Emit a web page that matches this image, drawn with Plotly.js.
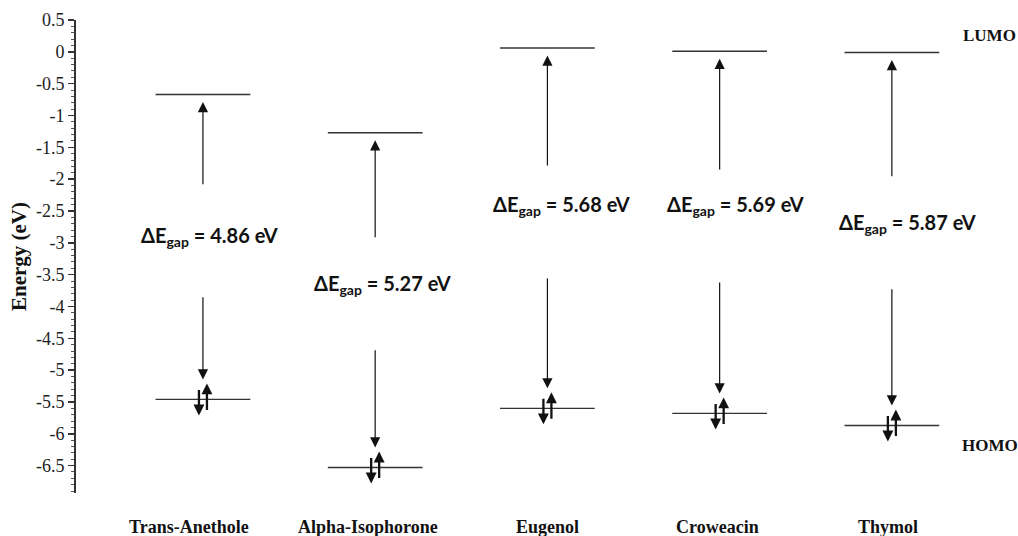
<!DOCTYPE html>
<html>
<head>
<meta charset="utf-8">
<script src="https://cdn.plot.ly/plotly-3.0.1.min.js"></script>
<style>html,body{margin:0;padding:0;background:#fff;}#chart{width:1018px;height:536px;}</style>
</head>
<body>
<div id="chart"></div>
<script>
// ---- data ----
const molecules = ['Trans-Anethole', 'Alpha-Isophorone', 'Eugenol', 'Croweacin', 'Thymol'];
const lumo = [-0.67, -1.27, 0.06, 0.01, -0.01];
const homo = [-5.46, -6.53, -5.60, -5.68, -5.87];
const gapValues = ['4.86', '5.27', '5.68', '5.69', '5.87'];
const yTickVals = [0.5, 0, -0.5, -1, -1.5, -2, -2.5, -3, -3.5, -4, -4.5, -5, -5.5, -6, -6.5];
const yTickLabels = ['0.5', '0', '-0.5', '-1', '-1.5', '-2', '-2.5', '-3', '-3.5', '-4', '-4.5', '-5', '-5.5', '-6', '-6.5'];

// ---- layout helpers (positions, not data) ----
const gapLabelY = [-2.90, -3.66, -2.42, -2.41, -2.70];
const gapLabelShiftPx = [7, 7, 14, 16, 16];
const catLabelShiftPx = [-14, -7, 0, -2, -4];

const W = 1018, H = 536;
const M = {l: 76, r: 40, t: 20, b: 43};
const yRange = [-6.93, 0.5];
const xRange = [0.263, 5.5];
const pxPerEV = (H - M.t - M.b) / (yRange[1] - yRange[0]);
const halfW = 0.275;
const xs = molecules.map((m, i) => i + 1);
const catLabelCenterPx = 526.5;

// level lines
const lx = [], lyL = [], lyH = [];
xs.forEach((x, i) => {
  lx.push(x - halfW, x + halfW, null);
  lyL.push(lumo[i], lumo[i], null);
  lyH.push(homo[i], homo[i], null);
});

const traces = [
  {x: lx, y: lyL, mode: 'lines', line: {color: '#333', width: 1.4}, hoverinfo: 'skip', name: 'LUMO'},
  {x: lx, y: lyH, mode: 'lines', line: {color: '#333', width: 1.4}, hoverinfo: 'skip', name: 'HOMO'}
];

const serif = '"Liberation Serif", "Times New Roman", serif';
const ann = [];
const upStand = 7.5, downStand = 20, middlePx = 110;
xs.forEach((x, i) => {
  const spanPx = (lumo[i] - homo[i]) * pxPerEV;
  const len = (spanPx - upStand - downStand - middlePx) / 2;
  // up arrow toward LUMO
  ann.push({x: x, y: lumo[i], xref: 'x', yref: 'y', axref: 'x', ayref: 'y',
    ax: x, ay: lumo[i] - (upStand + len) / pxPerEV, showarrow: true, text: '',
    arrowhead: 2, arrowsize: 1.7, arrowwidth: 1.2, arrowcolor: '#111', standoff: upStand});
  // down arrow toward HOMO
  ann.push({x: x, y: homo[i], xref: 'x', yref: 'y', axref: 'x', ayref: 'y',
    ax: x, ay: homo[i] + (downStand + len) / pxPerEV, showarrow: true, text: '',
    arrowhead: 2, arrowsize: 1.7, arrowwidth: 1.2, arrowcolor: '#111', standoff: downStand});
  // gap label
  ann.push({x: x, y: gapLabelY[i], xref: 'x', yref: 'y', showarrow: false,
    xshift: gapLabelShiftPx[i],
    text: 'ΔE<sub>gap</sub> = ' + gapValues[i] + ' eV',
    font: {family: 'Lato, "Liberation Sans", sans-serif', size: 20, color: '#111', weight: 'bold'}});
  // electron pair on HOMO: spin down (left) and spin up (right)
  ann.push({x: x, y: homo[i], xref: 'x', yref: 'y', axref: 'pixel', ayref: 'pixel',
    ax: 0, ay: -27, xshift: -4, yshift: -16, showarrow: true, text: '',
    arrowhead: 2, arrowsize: 0.95, arrowwidth: 2.3, arrowcolor: '#111'});
  ann.push({x: x, y: homo[i], xref: 'x', yref: 'y', axref: 'pixel', ayref: 'pixel',
    ax: 0, ay: 28, xshift: 4, yshift: 16, showarrow: true, text: '',
    arrowhead: 2, arrowsize: 0.95, arrowwidth: 2.3, arrowcolor: '#111'});
  // category label
  ann.push({x: x, y: 0, xref: 'x', yref: 'paper', yanchor: 'middle',
    yshift: -(catLabelCenterPx - (H - M.b)),
    xshift: catLabelShiftPx[i], showarrow: false, text: molecules[i],
    font: {family: serif, size: 18, color: '#111', weight: 'bold'}});
});

// LUMO / HOMO side labels
ann.push({x: 1.013, y: 0.25, xref: 'paper', yref: 'y', showarrow: false, text: 'LUMO', xanchor: 'center',
  font: {family: serif, size: 17, color: '#111', weight: 'bold'}});
ann.push({x: 1.013, y: -6.19, xref: 'paper', yref: 'y', showarrow: false, text: 'HOMO', xanchor: 'center',
  font: {family: serif, size: 17, color: '#111', weight: 'bold'}});

const layout = {
  width: W, height: H,
  margin: M,
  paper_bgcolor: '#fff', plot_bgcolor: '#fff',
  showlegend: false,
  xaxis: {range: xRange, showline: false, showgrid: false, zeroline: false, showticklabels: false, ticks: '', fixedrange: true},
  yaxis: {
    range: yRange, showline: true, linecolor: '#333', linewidth: 2,
    showgrid: false, zeroline: false,
    tickmode: 'array', tickvals: yTickVals, ticktext: yTickLabels,
    ticks: 'outside', ticklen: 6, tickwidth: 1.5, tickcolor: '#333',
    minor: {tickmode: 'linear', tick0: 0, dtick: 0.1, ticks: 'outside', ticklen: 3, tickwidth: 1, tickcolor: '#555', showgrid: false},
    tickfont: {family: serif, size: 18, color: '#222'},
    title: {text: 'Energy (eV)', standoff: 4,
      font: {family: serif, size: 21, color: '#111', weight: 'bold'}}
  },
  annotations: ann
};

Plotly.newPlot('chart', traces, layout, {staticPlot: true, displayModeBar: false});
</script>
</body>
</html>
